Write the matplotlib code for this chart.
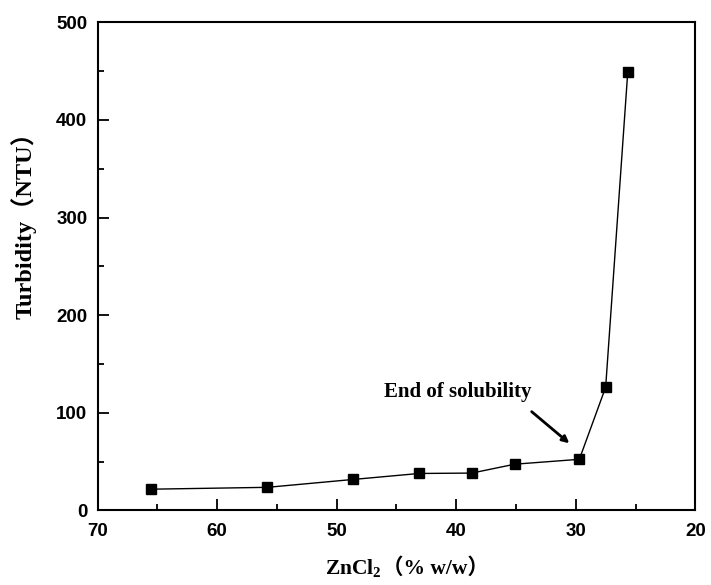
import matplotlib
matplotlib.use("Agg")
import matplotlib.pyplot as plt
from matplotlib.ticker import MultipleLocator
from matplotlib.offsetbox import TextArea, HPacker, AnchoredOffsetbox

zncl2 = [65.5, 55.8, 48.6, 43.1, 38.7, 35.1, 29.7, 27.5, 25.65]
turbidity = [21.8, 23.7, 31.8, 37.9, 38.3, 47.4, 52.4, 126.2, 449.0]
x_ticks = [70, 60, 50, 40, 30, 20]
y_ticks = [0, 100, 200, 300, 400, 500]

plt.rcParams['mathtext.fontset'] = 'custom'
plt.rcParams['mathtext.rm'] = 'Liberation Serif:bold'
plt.rcParams['mathtext.it'] = 'Liberation Serif:bold'
plt.rcParams['mathtext.bf'] = 'Liberation Serif:bold'

fig = plt.figure(figsize=(7.11, 5.85), dpi=100)
ax = fig.add_axes([0.1374, 0.1274, 0.8405, 0.8345])

ax.plot(zncl2, turbidity, color='black', linewidth=1.0, marker='s',
        markersize=7, markerfacecolor='black', markeredgecolor='black')

ax.set_xlim(70, 20)
ax.set_ylim(0, 500)
ax.set_xticks(x_ticks)
ax.set_yticks(y_ticks)
ax.xaxis.set_minor_locator(MultipleLocator(5))
ax.yaxis.set_minor_locator(MultipleLocator(50))
ax.tick_params(which='major', direction='in', length=8, width=1.3,
               top=False, right=False)
ax.tick_params(which='minor', direction='in', length=4.5, width=1.3,
               top=False, right=False)
ax.tick_params(axis='x', which='major', pad=9)
ax.tick_params(axis='y', which='major', pad=7.5)
for lab in ax.get_xticklabels() + ax.get_yticklabels():
    lab.set_family('Liberation Sans')
    lab.set_fontweight('bold')
    lab.set_fontsize(13.5)
for s in ax.spines.values():
    s.set_linewidth(1.5)

serif = ['Liberation Serif', 'Noto Sans CJK SC']
ax.set_ylabel('Turbidity\uff08NTU\uff09', family=serif, fontweight='bold',
              fontsize=17.5)
ax.yaxis.set_label_coords(-0.1016, 0.596)

# x label: ZnCl2 with subscript, followed by full-width parentheses part
ta1 = TextArea('ZnCl$_2$', textprops=dict(family='Liberation Serif',
                                          fontweight='bold', fontsize=15.5))
ta2 = TextArea('\uff08% w/w\uff09', textprops=dict(family=serif,
                                                  fontweight='bold', fontsize=15.5))
pack = HPacker(children=[ta1, ta2], align='baseline', pad=0, sep=0)
box = AnchoredOffsetbox(loc='upper center', child=pack, pad=0, borderpad=0,
                        bbox_to_anchor=(0.517, -0.095),
                        bbox_transform=ax.transAxes, frameon=False)
ax.add_artist(box)

ax.text(33.69, 111.1, 'End of solubility', family='Liberation Serif',
        fontweight='bold', fontsize=15, ha='right', va='bottom')
ax.annotate('', xy=(30.54, 68.8), xytext=(33.69, 101.2),
            arrowprops=dict(arrowstyle='-|>', color='black', lw=2,
                            mutation_scale=10, shrinkA=0, shrinkB=0))

fig.savefig('out.png', dpi=100)
